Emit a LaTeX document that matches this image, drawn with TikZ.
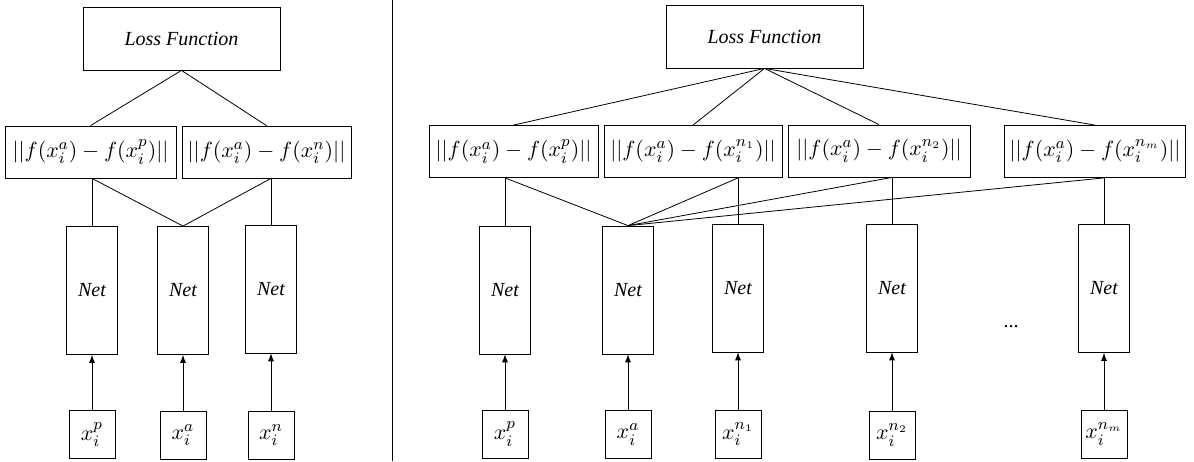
\documentclass[tikz,border=0pt]{standalone}
\usepackage{amsmath}
\usepackage{amssymb}
\usepackage{fontspec}
\setmainfont{Liberation Serif}

\begin{document}
\begin{tikzpicture}[x=0.5pt, y=-0.5pt,
	every node/.style={rectangle, draw=black, inner sep=0pt},
	lossbox/.style={minimum width=98.5pt, minimum height=31.5pt, font=\itshape},
	distbox/.style={minimum height=26pt, inner xsep=2.5pt, font=\fontsize{11}{13}\selectfont},
	netbox/.style={minimum width=25.5pt, minimum height=64pt, font=\itshape},
	inbox/.style={minimum width=23pt, minimum height=24pt, font=\fontsize{11}{13}\selectfont},
	feed/.style={-latex}]
			\useasboundingbox (0,0) rectangle (1194,461);
			
			% left: triplet
			\node[lossbox] (lossL) at (181.5,38.5){Loss Function};
			\node[distbox, minimum width=85.5pt] (distLp) at (90.5,152){$||f(x_i^a) - f(x_i^p)||$};
			\node[distbox, minimum width=84.5pt] (distLn) at (266.5,152){$||f(x_i^a) - f(x_i^n)||$};
			
			\node[netbox] (netLp) at (92,290.5){Net};
			\node[netbox] (netLa) at (183,290.5){Net};
			\node[netbox] (netLn) at (271,289){Net};
			
			\node[inbox] (inLp) at (92,434.5){$x_i^p$};
			\node[inbox] (inLa) at (183,435){$x_i^a$};
			\node[inbox] (inLn) at (271,435.5){$x_i^n$};
			
			\draw (lossL.south) -- (distLp.north);
			\draw (lossL.south) -- (distLn.north);
			\draw (netLp.north |- distLp.south) -- (netLp.north);
			\draw (netLp.north |- distLp.south) -- (netLa.north);
			\draw (netLn.north |- distLn.south) -- (netLa.north);
			\draw (netLn.north |- distLn.south) -- (netLn.north);
			
			\draw[feed] (inLp) -- (netLp);
			\draw[feed] (inLa) -- (netLa);
			\draw[feed] (inLn) -- (netLn);
			
			% divider
			\coordinate (divtop) at (392,0);
			\coordinate (divbot) at (392,461);
			\draw (divtop) -- (divbot);
			
			% right: one positive, m negatives
			\node[lossbox] (lossR) at (764.5,36.5){Loss Function};
			\node[distbox, minimum width=84.5pt] (distRp) at (513.5,151.5){$||f(x_i^a) - f(x_i^p)||$};
			\node[distbox, minimum width=89pt] (distRa) at (693,151.5){$||f(x_i^a) - f(x_i^{n_1})||$};
			\node[distbox, minimum width=91pt] (distRb) at (879,151){$||f(x_i^a) - f(x_i^{n_2})||$};
			\node[distbox, minimum width=87pt] (distRm) at (1095,151.5){$||f(x_i^a) - f(x_i^{n_m})||$};
			
			\node[netbox] (netRp) at (505,290){Net};
			\node[netbox] (netRa) at (628,290){Net};
			\node[netbox] (netRn1) at (738,288){Net};
			\node[netbox] (netRn2) at (892,288){Net};
			\node[netbox] (netRnm) at (1104,288.5){Net};
			
			\node[inbox] (inRp) at (505,434){$x_i^p$};
			\node[inbox] (inRa) at (628,434.5){$x_i^a$};
			\node[inbox] (inRn1) at (738,434.5){$x_i^{n_1}$};
			\node[inbox] (inRn2) at (892,435){$x_i^{n_2}$};
			\node[inbox] (inRnm) at (1104,434){$x_i^{n_m}$};
			
			\node[draw=none] (dots) at (1011,327){...};
			
			\draw (lossR.south) -- (distRp.north);
			\draw (lossR.south) -- (distRa.north);
			\draw (lossR.south) -- (distRb.north);
			\draw (lossR.south) -- (distRm.north);
			\draw (netRp.north |- distRp.south) -- (netRp.north);
			\draw (netRp.north |- distRp.south) -- (netRa.north);
			\draw (netRn1.north |- distRa.south) -- (netRn1.north);
			\draw (netRn1.north |- distRa.south) -- (netRa.north);
			\draw (netRn2.north |- distRb.south) -- (netRn2.north);
			\draw (netRn2.north |- distRb.south) -- (netRa.north);
			\draw (netRnm.north |- distRm.south) -- (netRnm.north);
			\draw (netRnm.north |- distRm.south) -- (netRa.north);
			
			\draw[feed] (inRp) -- (netRp);
			\draw[feed] (inRa) -- (netRa);
			\draw[feed] (inRn1) -- (netRn1);
			\draw[feed] (inRn2) -- (netRn2);
			\draw[feed] (inRnm) -- (netRnm);
			\end{tikzpicture}
\end{document}
